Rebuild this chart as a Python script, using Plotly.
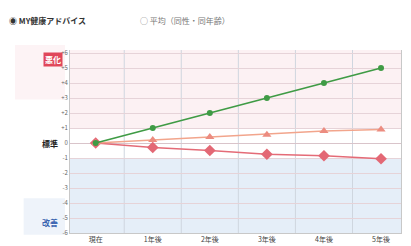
import plotly.graph_objects as go

categories = ["現在", "1年後", "2年後", "3年後", "4年後", "5年後"]
my_advice = [0, 1, 2, 3, 4, 5]
average_line = [0, 0.2, 0.4, 0.55, 0.8, 0.9]
current_line = [0, -0.3, -0.5, -0.75, -0.85, -1.05]
y_ticks = [6, 5, 4, 3, 2, 1, 0, -1, -2, -3, -4, -5, -6]
y_tick_text = ["+6", "+5", "+4", "+3", "+2", "+1", "0", "-1", "-2", "-3", "-4", "-5", "-6"]

xi = list(range(len(categories)))
fig = go.Figure()

# background bands
fig.add_shape(type="rect", xref="paper", yref="y", x0=0, x1=1, y0=1, y1=6.2,
              fillcolor="#fcf1f3", line_width=0, layer="below")
fig.add_shape(type="rect", xref="paper", yref="y", x0=0, x1=1, y0=-1, y1=-6.0,
              fillcolor="#e5eef8", line_width=0, layer="below")
# left label panels
fig.add_shape(type="rect", xref="paper", yref="paper", x0=-0.166, x1=-0.015, y0=0.73, y1=1.027,
              fillcolor="#fdf3f5", line_width=0, layer="below")
fig.add_shape(type="rect", xref="paper", yref="paper", x0=-0.14, x1=-0.015, y0=-0.01, y1=0.19,
              fillcolor="#eef3fa", line_width=0, layer="below")
# vertical separators
for v in [0.5, 1.5, 2.5, 3.5, 4.5]:
    fig.add_shape(type="line", xref="x", yref="paper", x0=v, x1=v, y0=0, y1=1,
                  line=dict(color="#cfd6df", width=1), layer="below")

fig.add_trace(go.Scatter(x=xi, y=current_line, mode="lines+markers",
                         line=dict(color="#e46b77", width=1.5),
                         marker=dict(symbol="diamond", size=9, color="#e36875")))
fig.add_trace(go.Scatter(x=xi, y=average_line, mode="lines+markers",
                         line=dict(color="#f2a58c", width=1.5),
                         marker=dict(symbol="triangle-up", size=8, color="#ec8c80")))
fig.add_trace(go.Scatter(x=xi, y=my_advice, mode="lines+markers",
                         line=dict(color="#3f9b45", width=1.8),
                         marker=dict(symbol="circle", size=6, color="#3f9b45")))

# browser page has an 8px body margin, so the figure is sized to fit the window
fig.update_layout(
    width=403, height=238,
    margin=dict(l=62, r=10, t=42, b=13, autoexpand=False),
    paper_bgcolor="white", plot_bgcolor="white",
    showlegend=False,
    font=dict(family="Noto Sans CJK JP", size=7, color="#555"),
    xaxis=dict(range=[-0.45, 5.35], tickvals=xi, ticktext=categories, showgrid=False,
               zeroline=False, showline=True, linecolor="#c8c8c8", ticks="",
               tickfont=dict(size=7, color="#444"), fixedrange=True, automargin=False),
    yaxis=dict(range=[-6.0, 6.2], tickvals=y_ticks, ticktext=y_tick_text,
               showgrid=True, gridcolor="#e6d3d8", gridwidth=1,
               zeroline=True, zerolinecolor="#d9c4ca", zerolinewidth=1,
               showline=True, linecolor="#c8c8c8", mirror=True, ticks="",
               tickfont=dict(size=6, color="#666"), fixedrange=True, automargin=False),
)

fig.add_annotation(xref="paper", yref="y", x=-0.082, y=5.6, text="<b>悪化</b>",
                   showarrow=False, font=dict(size=8, color="white"),
                   bgcolor="#e0475a", borderpad=1)
fig.add_annotation(xref="paper", yref="y", x=-0.09, y=0, text="<b>標準</b>",
                   showarrow=False, font=dict(size=8, color="#222"))
fig.add_annotation(xref="paper", yref="y", x=-0.09, y=-5.3, text="<b>改善</b>",
                   showarrow=False, font=dict(size=8, color="#3a64b0"))

# legend-like header
fig.add_annotation(xref="paper", yref="paper", x=-0.19, y=1.2, xanchor="left",
                   text="<b>◉ MY健康アドバイス</b>", showarrow=False,
                   font=dict(size=8, color="#333"))
fig.add_annotation(xref="paper", yref="paper", x=0.205, y=1.2, xanchor="left",
                   text="○ 平均（同性・同年齢）", showarrow=False,
                   font=dict(size=8, color="#777"))

fig.write_html("out.html")
